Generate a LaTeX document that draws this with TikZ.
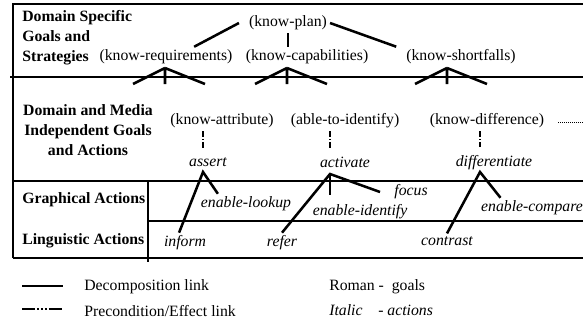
\documentclass[tikz,border=0pt]{standalone}
\usepackage{fontspec}
\setmainfont{Liberation Serif}
\usepackage{tikz}

\newcommand{\diagfont}{\fontsize{11.2}{14.2}\selectfont}

\begin{document}
\begin{tikzpicture}[x=0.025cm, y=-0.025cm,
    goal/.style={font=\diagfont, inner sep=2pt},
    act/.style={font=\diagfont\itshape, inner sep=2pt},
    lvl/.style={font=\diagfont\bfseries, inner sep=0pt},
    decomp/.style={line width=1.8pt},
    precond/.style={line width=1.6pt, dash pattern=on 4.2pt off 1.2pt on 0.9pt off 1.2pt},
    frame/.style={line width=1.4pt}]
    \useasboundingbox (0,0) rectangle (583,322);

    % 表格框线
    \draw[frame] (13,258) -- (13,4) -- (590,4);
    \draw[frame] (10,77) -- (590,77);
    \draw[frame] (13,181) -- (590,181);
    \draw[frame] (148,221) -- (590,221);
    \draw[frame] (13,258) -- (590,258);
    \draw[frame] (148,181) -- (148,262);

    % 层次标签
    \node[lvl, anchor=west, align=left] (lvlone) at (22,38) {Domain Specific\\Goals and\\Strategies};
    \node[lvl, align=center] (lvltwo) at (88,130) {Domain and Media\\Independent Goals\\and Actions};
    \node[lvl, anchor=west] (lvlgraph) at (22,200) {Graphical Actions};
    \node[lvl, anchor=west] (lvlling) at (22,241) {Linguistic Actions};

    % 领域目标
    \node[goal] (plan) at (288,23) {(know-plan)};
    \node[goal] (req) at (166,57) {(know-requirements)};
    \node[goal] (cap) at (307,57) {(know-capabilities)};
    \node[goal] (short) at (461,57) {(know-shortfalls)};

    \draw[decomp] ([xshift=-5pt]plan.west) -- (req.20);
    \draw[decomp] (plan.south) -- (plan.south |- cap.north);
    \draw[decomp] (plan.east) -- ([xshift=-5pt]short.north west);

    % 向下分解
    \coordinate (reqfork) at (165,68);
    \coordinate (capfork) at (287,68);
    \coordinate (shortfork) at (447,68);
    \foreach \f in {reqfork,capfork,shortfork}
        \draw[decomp] (\f) -- ++(-32,16) (\f) -- ++(0,16) (\f) -- ++(40,16);

    % 独立目标与动作
    \node[goal] (attr) at (222,121) {(know-attribute)};
    \node[goal] (able) at (345,121) {(able-to-identify)};
    \node[goal] (kdiff) at (487,121) {(know-difference)};
    \draw[densely dotted, thin] (kdiff.east) ++(11,1) -- ++(30,0);

    \node[act, inner sep=6pt] (assert) at (208,162) {assert};
    \node[act, inner sep=6pt] (activate) at (345,162) {activate};
    \node[act, inner sep=6pt] (differ) at (494,163) {differentiate};

    \coordinate (assertfork) at (203,172);
    \coordinate (actfork) at (330,174);
    \coordinate (differfork) at (480,172);

    \draw[precond] (attr.south -| assertfork) -- (assert.north -| assertfork);
    \draw[precond] (able.south -| actfork) -- (activate.north -| actfork);
    \draw[precond] (kdiff.south -| differfork) -- (differ.north -| differfork);

    % 图形动作与语言动作
    \node[act] (lookup) at (246,204) {enable-lookup};
    \node[act] (inform) at (185,243) {inform};
    \node[act] (refer) at (282,243) {refer};
    \node[act] (identify) at (360,212) {enable-identify};
    \node[act] (focus) at (411,192) {focus};
    \node[act] (contrast) at (447,241) {contrast};
    \node[act] (compare) at (532,208) {enable-compare};

    \draw[decomp] (inform.120) -- (assertfork) -- (lookup.160);
    \draw[decomp] (refer.north) -- (actfork) -- ([xshift=-8pt]focus.west);
    \draw[decomp, shorten >=5pt] (actfork) -- (actfork |- identify.north);
    \draw[decomp] (contrast.north) -- (differfork) -- (compare.162);

    % 图例
    \coordinate (decl) at (22,286);
    \coordinate (precl) at (22,309);
    \node[goal, anchor=west, inner sep=0pt] (decomptxt) at (84,287) {Decomposition link};
    \node[goal, anchor=west, inner sep=0pt] (precondtxt) at (84,311) {Precondition/Effect link};
    \draw[decomp] (decl) -- ++(41,0);
    \draw[precond, dash pattern=on 9.2pt off 1.5pt on 1.2pt off 1.6pt on 1.2pt off 1.6pt on 1.2pt off 1.5pt on 9.2pt off 1pt] (precl) -- ++(41,0);

    \node[goal, anchor=west, inner sep=0pt] (romantxt) at (329,287) {Roman - \ goals};
    \node[goal, anchor=west, inner sep=0pt] (italictxt) at (329,310) {\textit{Italic}\quad- \textit{actions}};
\end{tikzpicture}
\end{document}
